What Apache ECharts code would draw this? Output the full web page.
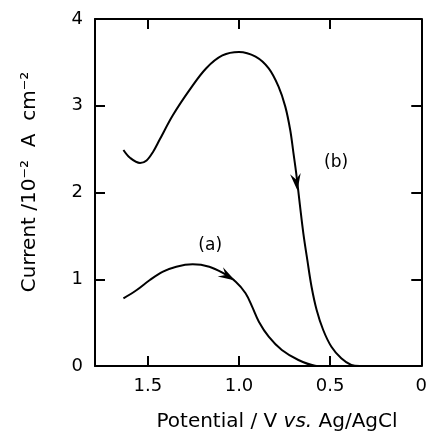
<!DOCTYPE html>
<html>
<head>
<meta charset="utf-8">
<script src="https://cdn.jsdelivr.net/npm/echarts@6/dist/echarts.min.js"></script>
<style>html,body{margin:0;padding:0;background:#fff}#c{width:430px;height:437px}</style>
</head>
<body>
<div id="c"></div>
<script>
// Curve (a)
const potentialA = [1.634, 1.561, 1.489, 1.417, 1.344, 1.254, 1.163, 1.091, 1.018, 0.964, 0.928, 0.891, 0.837, 0.765, 0.674, 0.583, 0.56];
const currentA   = [0.78, 0.876, 0.991, 1.087, 1.145, 1.172, 1.145, 1.075, 0.972, 0.838, 0.684, 0.511, 0.338, 0.184, 0.069, 0.003, 0.0];
// Curve (b)
const potentialB = [1.634, 1.598, 1.543, 1.507, 1.471, 1.435, 1.363, 1.272, 1.181, 1.091, 1.0, 0.909, 0.837, 0.783, 0.746, 0.719, 0.701, 0.686, 0.665, 0.647, 0.625, 0.602, 0.574, 0.538, 0.493, 0.439, 0.384, 0.337];
const currentB   = [2.49, 2.40, 2.34, 2.37, 2.47, 2.61, 2.89, 3.18, 3.43, 3.58, 3.62, 3.565, 3.43, 3.22, 2.99, 2.72, 2.45, 2.22, 1.84, 1.53, 1.22, 0.914, 0.646, 0.415, 0.222, 0.089, 0.012, 0.0];
// Arrowheads (position, direction)
const arrowPotential = [1.062, 0.685];
const arrowCurrent   = [1.035, 2.12];
const arrowRotate    = [-120, -173];
// Curve labels
const labelText      = ['(a)', '(b)'];
const labelPotential = [1.158, 0.467];
const labelCurrent   = [1.39, 2.35];
// Ticks
const xTicks = [0, 0.5, 1.0, 1.5];
const yTicks = [0, 1, 2, 3, 4];

const FONT = 'DejaVu Sans';
const zip = (a, b) => a.map((v, i) => [v, b[i]]);

const chart = echarts.init(document.getElementById('c'), null, {renderer: 'canvas'});
const axisCommon = {
  axisLine: {show: true, onZero: false, lineStyle: {color: '#000', width: 2}},
  axisTick: {show: true, inside: true, length: 10, lineStyle: {color: '#000', width: 2}},
  splitLine: {show: false}
};
chart.setOption({
  animation: false,
  backgroundColor: '#fff',
  grid: {left: 95, right: 6, top: 19, bottom: 71},
  xAxis: [
    Object.assign({type: 'value', position: 'bottom', inverse: true, min: 0, max: 1.79, interval: 0.5,
      axisLabel: {show: true, margin: 11, fontFamily: FONT, fontSize: 18, color: '#000',
        showMaxLabel: false,
        formatter: v => { const t = xTicks.find(k => Math.abs(k - v) < 1e-6); return t === undefined ? '' : (t === 0 ? '0' : t.toFixed(1)); }}
    }, axisCommon),
    Object.assign({type: 'value', position: 'top', inverse: true, min: 0, max: 1.79, interval: 0.5,
      axisLabel: {show: false}}, axisCommon)
  ],
  yAxis: [
    Object.assign({type: 'value', position: 'left', min: 0, max: 4, interval: 1,
      axisLabel: {show: true, margin: 12, fontFamily: FONT, fontSize: 18, color: '#000',
        formatter: v => String(yTicks.find(k => Math.abs(k - v) < 1e-6))}}, axisCommon),
    Object.assign({type: 'value', position: 'right', min: 0, max: 4, interval: 1,
      axisLabel: {show: false}}, axisCommon)
  ],
  series: [
    {type: 'line', data: zip(potentialA, currentA), smooth: 0.35, showSymbol: false,
      lineStyle: {color: '#000', width: 2}},
    {type: 'line', data: zip(potentialB, currentB), smooth: 0.35, showSymbol: false,
      lineStyle: {color: '#000', width: 2}},
    {type: 'scatter', data: arrowPotential.map((v, i) => ({value: [v, arrowCurrent[i]], symbolRotate: arrowRotate[i]})),
      symbol: 'path://M0,0 L7,17 L0,11 L-7,17 Z', symbolSize: [13, 17], symbolKeepAspect: true,
      itemStyle: {color: '#000', opacity: 1}, z: 5},
    {type: 'scatter', data: labelPotential.map((v, i) => ({value: [v, labelCurrent[i]], name: labelText[i]})),
      symbolSize: 0, itemStyle: {color: '#000', opacity: 1},
      label: {show: true, position: 'inside', formatter: p => p.name, fontFamily: FONT, fontSize: 17,
        color: '#000', opacity: 1, textBorderWidth: 0, textBorderColor: 'transparent'}}
  ],
  graphic: [
    {type: 'text', x: 277, y: 422,
      style: {text: 'Potential / V {it|vs.} Ag/AgCl', align: 'center', verticalAlign: 'middle',
        fontFamily: FONT, fontSize: 20, fill: '#000',
        rich: {it: {fontStyle: 'italic', fontFamily: FONT, fontSize: 20, fill: '#000'}}}},
    {type: 'text', x: 30, y: 182, rotation: Math.PI / 2,
      style: {text: 'Current /10\u207B\u00B2  A  cm\u207B\u00B2', align: 'center', verticalAlign: 'middle',
        fontFamily: FONT, fontSize: 20, fill: '#000'}}
  ]
});
</script>
</body>
</html>
